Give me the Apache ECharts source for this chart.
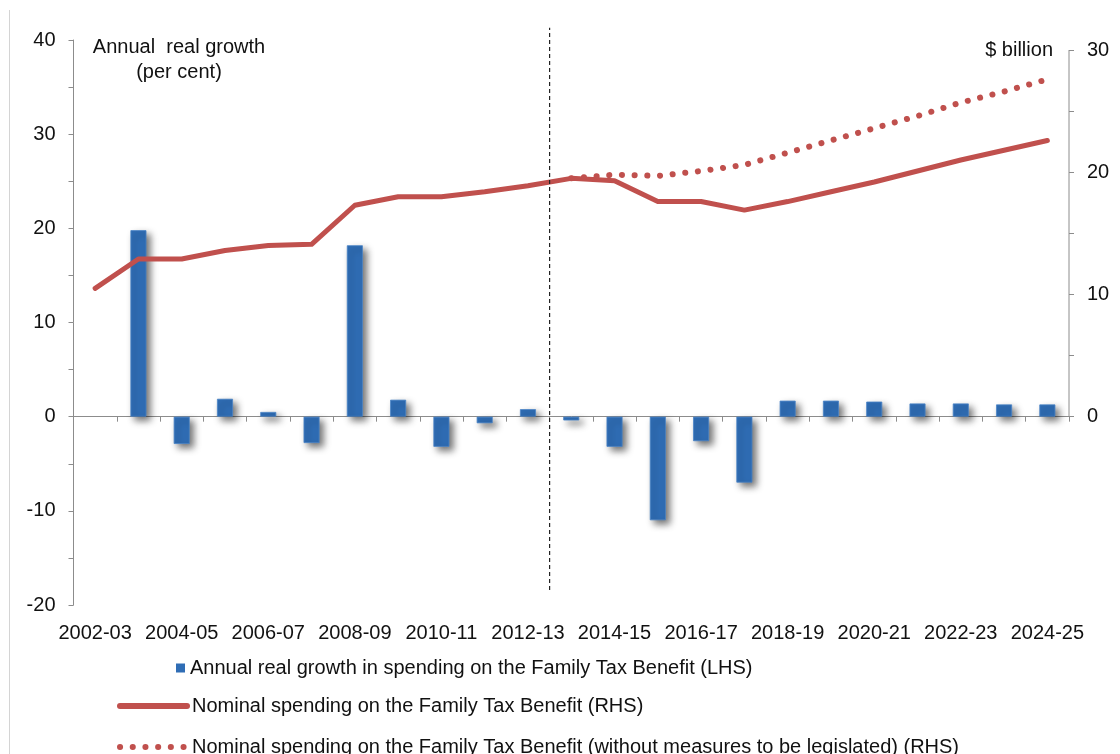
<!DOCTYPE html>
<html>
<head>
<meta charset="utf-8">
<title>Family Tax Benefit spending</title>
<script src="https://cdn.jsdelivr.net/npm/echarts@6/dist/echarts.min.js"></script>
<style>
  html, body { margin: 0; padding: 0; background: #ffffff; }
  #chart { width: 1120px; height: 754px; }
</style>
</head>
<body>
<div id="chart"></div>
<script>
// Financial years on the category axis
const categories = [
  '2002-03', '2003-04', '2004-05', '2005-06', '2006-07', '2007-08', '2008-09',
  '2009-10', '2010-11', '2011-12', '2012-13', '2013-14', '2014-15', '2015-16',
  '2016-17', '2017-18', '2018-19', '2019-20', '2020-21', '2021-22', '2022-23',
  '2023-24', '2024-25'
];

// Annual real growth in spending, per cent (LHS)
const realGrowth = [
  null, 19.8, -2.9, 1.9, 0.5, -2.8, 18.2, 1.8, -3.2, -0.7, 0.8, -0.4,
  -3.2, -11.0, -2.6, -7.0, 1.7, 1.7, 1.6, 1.4, 1.4, 1.3, 1.3
];

// Nominal spending, $ billion (RHS)
const nominalSpending = [
  10.5, 12.9, 12.9, 13.6, 14.0, 14.1, 17.3, 18.0, 18.0, 18.4, 18.9, 19.5,
  19.3, 17.6, 17.6, 16.9, 17.6, 18.4, 19.2, 20.1, 21.0, 21.8, 22.6
];

// Nominal spending without measures to be legislated, $ billion (RHS)
const nominalNoMeasures = [
  null, null, null, null, null, null, null, null, null, null, null, 19.5,
  19.8, 19.7, 20.1, 20.6, 21.6, 22.6, 23.6, 24.6, 25.7, 26.6, 27.6
];

// Tick values
const leftTicks = [-20, -10, 0, 10, 20, 30, 40];
const rightLabelTicks = [0, 10, 20, 30];
const rightMinorTicks = [0, 5, 10, 15, 20, 25, 30];

// Boundary between 2012-13 and 2013-14 (budget year divider), in category units
const dividerPosition = 11;
const dividerRange = [-18.4, 41.3];

const seriesNames = [
  'Annual real growth in spending on the Family Tax Benefit (LHS)',
  'Nominal spending on the Family Tax Benefit (RHS)',
  'Nominal spending on the Family Tax Benefit (without measures to be legislated) (RHS)'
];

const FONT = "'Liberation Sans', Arial, sans-serif";
const AXIS_GREY = '#8c8c8c';
const RED = '#C0504D';
const BLUE = '#2F6DB5';
const TEXT = '#111111';
const DOTS = [0.1, 12.6];

// Right axis scaled so its zero lines up with the left axis zero
const rightScale = 0.7705;

const chart = echarts.init(document.getElementById('chart'), null, { renderer: 'canvas' });

const legendText = { fontFamily: FONT, fontSize: 20, color: TEXT };
// hide the marker dot that line legends draw in the middle of the stroke
const noMarker = { opacity: 0, borderWidth: 0, shadowBlur: 0 };

const option = {
  backgroundColor: '#ffffff',
  animation: false,
  textStyle: { fontFamily: FONT },
  title: [
    {
      text: 'Annual  real growth\n(per cent)',
      left: 174,
      top: 30,
      textAlign: 'center',
      textStyle: { fontFamily: FONT, fontSize: 20, fontWeight: 'normal', color: TEXT, lineHeight: 25, align: 'center' }
    },
    {
      text: '$ billion',
      right: 62,
      top: 33,
      textStyle: { fontFamily: FONT, fontSize: 20, fontWeight: 'normal', color: TEXT, lineHeight: 24 }
    }
  ],
  legend: [
    {
      data: [{ name: seriesNames[0], icon: 'rect' }],
      left: 176, top: 658, padding: 0,
      itemWidth: 9, itemHeight: 9,
      selectedMode: false,
      itemStyle: { borderWidth: 0, shadowBlur: 0, shadowOffsetX: 0, shadowOffsetY: 0 },
      textStyle: legendText
    },
    {
      data: [seriesNames[1]],
      left: 117, top: 696, padding: 0,
      itemWidth: 67, itemHeight: 20,
      selectedMode: false,
      itemStyle: noMarker,
      lineStyle: { width: 6, cap: 'round' },
      textStyle: legendText
    },
    {
      data: [seriesNames[2]],
      left: 117, top: 737, padding: 0,
      itemWidth: 67, itemHeight: 20,
      selectedMode: false,
      itemStyle: noMarker,
      lineStyle: { width: 6, type: DOTS, cap: 'round' },
      textStyle: legendText
    }
  ],
  grid: { left: 73.5, right: 51, top: 40, bottom: 149, containLabel: false },
  xAxis: [
    {
      // axis line at zero with boundary ticks
      type: 'category',
      data: categories,
      boundaryGap: true,
      axisLine: { onZero: true, onZeroAxisIndex: 0, lineStyle: { color: AXIS_GREY, width: 1 } },
      axisTick: { show: true, interval: 0, length: 5, lineStyle: { color: AXIS_GREY } },
      axisLabel: { show: false },
      splitLine: { show: false }
    },
    {
      // year labels along the bottom
      type: 'category',
      data: categories,
      position: 'bottom',
      boundaryGap: true,
      axisLine: { show: false, onZero: false },
      axisTick: { show: false },
      axisLabel: { interval: 1, margin: 18, fontFamily: FONT, fontSize: 20, color: TEXT },
      splitLine: { show: false }
    },
    {
      // continuous helper axis for the divider line
      type: 'value',
      min: 0,
      max: categories.length,
      show: false
    }
  ],
  yAxis: [
    {
      type: 'value',
      position: 'left',
      min: leftTicks[0],
      max: leftTicks[leftTicks.length - 1],
      interval: 5,
      axisLine: { show: true, lineStyle: { color: AXIS_GREY, width: 1 } },
      axisTick: { show: true, length: 5, lineStyle: { color: AXIS_GREY } },
      axisLabel: {
        margin: 18, fontFamily: FONT, fontSize: 20, color: TEXT,
        formatter: v => (leftTicks.indexOf(v) >= 0 ? String(v) : '')
      },
      splitLine: { show: false }
    },
    {
      type: 'value',
      position: 'right',
      min: leftTicks[0] * rightScale,
      max: leftTicks[leftTicks.length - 1] * rightScale,
      axisLine: { show: false },
      axisTick: { show: true, length: 5, customValues: rightMinorTicks, lineStyle: { color: AXIS_GREY } },
      axisLabel: { customValues: rightLabelTicks, margin: 18, fontFamily: FONT, fontSize: 20, color: TEXT },
      splitLine: { show: false }
    }
  ],
  series: [
    {
      name: seriesNames[0],
      type: 'bar',
      xAxisIndex: 0,
      yAxisIndex: 0,
      data: realGrowth,
      barWidth: 16,
      itemStyle: {
        color: BLUE,
        borderColor: '#4a84c6',
        borderWidth: 0.8,
        shadowColor: 'rgba(0,0,0,0.55)',
        shadowBlur: 7,
        shadowOffsetX: 4,
        shadowOffsetY: 4
      },
      z: 2
    },
    {
      name: seriesNames[1],
      type: 'line',
      xAxisIndex: 0,
      yAxisIndex: 1,
      data: nominalSpending,
      symbol: 'none',
      lineStyle: { color: RED, width: 5, cap: 'round', join: 'round' },
      itemStyle: { color: RED },
      z: 3
    },
    {
      name: seriesNames[2],
      type: 'line',
      xAxisIndex: 0,
      yAxisIndex: 1,
      data: nominalNoMeasures,
      symbol: 'none',
      connectNulls: false,
      lineStyle: { color: RED, width: 6, type: DOTS, cap: 'round', join: 'round' },
      itemStyle: { color: RED },
      z: 4
    },
    {
      name: 'divider',
      type: 'line',
      xAxisIndex: 2,
      yAxisIndex: 0,
      data: [[dividerPosition, dividerRange[0]], [dividerPosition, dividerRange[1]]],
      symbol: 'none',
      clip: false,
      silent: true,
      lineStyle: { color: '#222222', width: 1.2, type: [4, 3] },
      z: 5
    }
  ]
};

chart.setOption(option);

// Right-hand axis line runs only from 0 to 30; plus the outer chart frame edge
const xRight = chart.convertToPixel({ xAxisIndex: 2 }, categories.length);
const yTop = chart.convertToPixel({ yAxisIndex: 1 }, rightLabelTicks[rightLabelTicks.length - 1]);
const yZero = chart.convertToPixel({ yAxisIndex: 1 }, 0);
chart.setOption({
  graphic: [
    {
      type: 'line',
      id: 'rhsAxisLine',
      shape: { x1: xRight, y1: yTop, x2: xRight, y2: yZero },
      style: { stroke: AXIS_GREY, lineWidth: 1 },
      z: 10
    },
    {
      type: 'line',
      id: 'frameEdge',
      shape: { x1: 9.5, y1: 10, x2: 9.5, y2: 754 },
      style: { stroke: '#d4d4d4', lineWidth: 1 },
      z: 1
    }
  ]
});
</script>
</body>
</html>
